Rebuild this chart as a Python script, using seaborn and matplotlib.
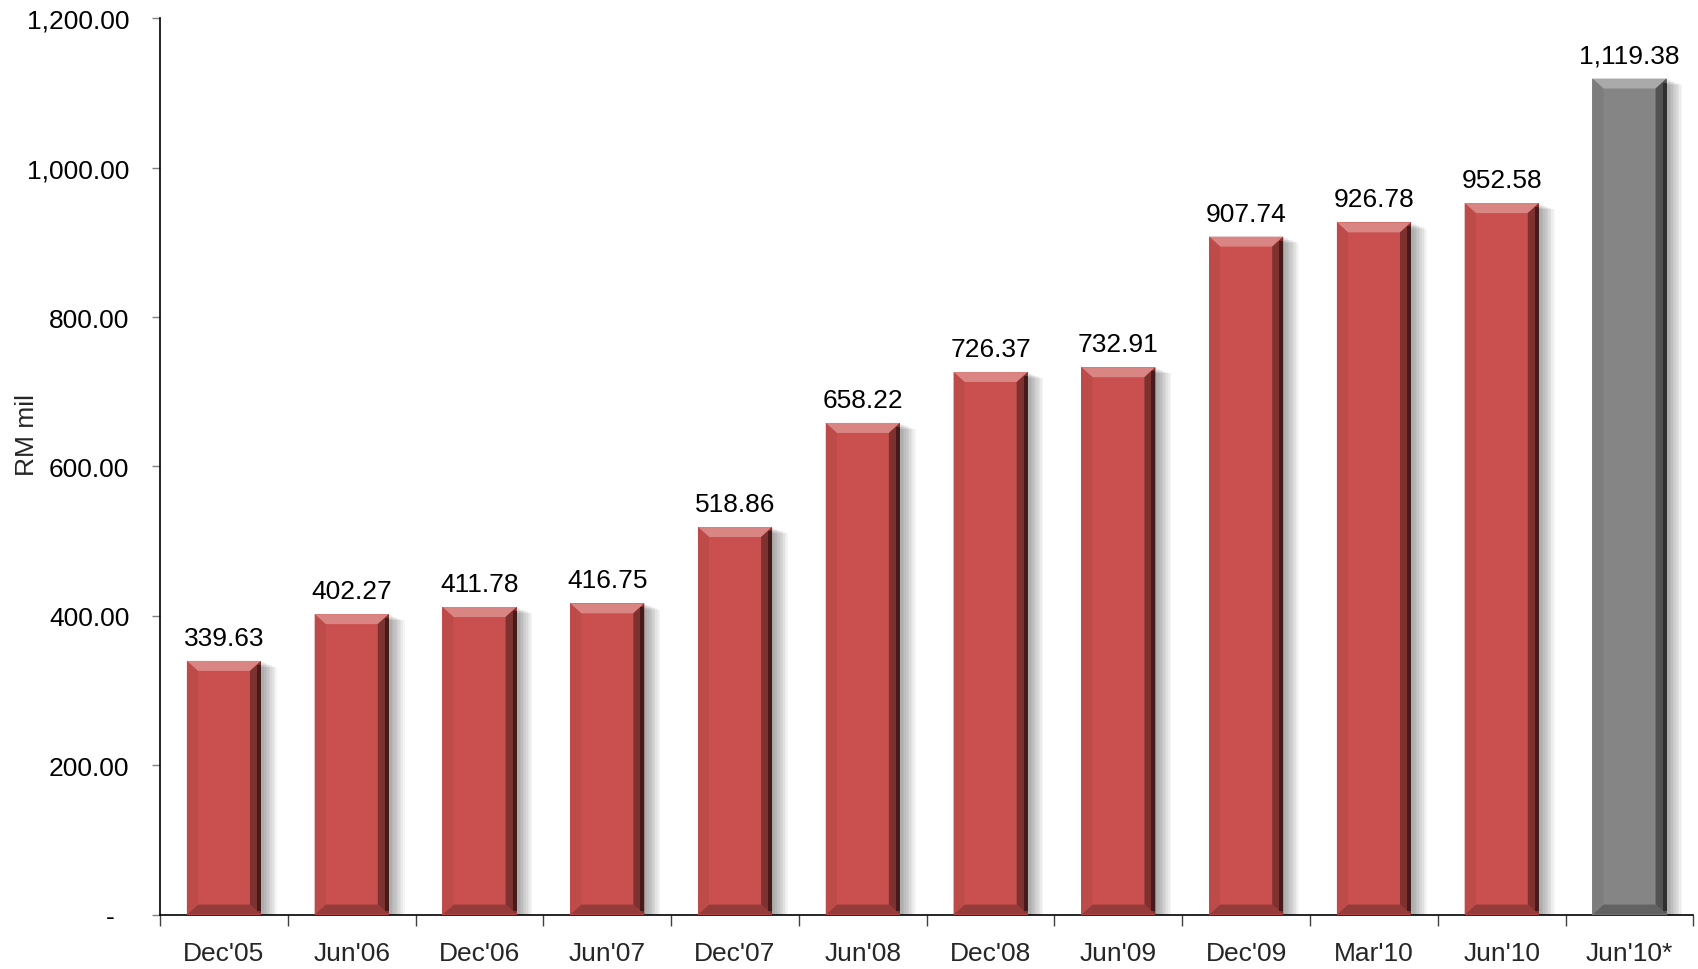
import matplotlib
matplotlib.use("Agg")
import matplotlib.pyplot as plt
import seaborn as sns
import pandas as pd
import numpy as np
from matplotlib.patches import Polygon, Rectangle
from matplotlib.ticker import FixedLocator
import matplotlib.colors as mcolors

periods = ["Dec'05", "Jun'06", "Dec'06", "Jun'07", "Dec'07", "Jun'08",
           "Dec'08", "Jun'09", "Dec'09", "Mar'10", "Jun'10", "Jun'10*"]
values = [339.63, 402.27, 411.78, 416.75, 518.86, 658.22,
          726.37, 732.91, 907.74, 926.78, 952.58, 1119.38]
bar_colors = ["#C9504E"] * 11 + ["#858585"]

sns.set_theme(style="white")
plt.rcParams["font.family"] = ["Liberation Sans", "DejaVu Sans"]

df = pd.DataFrame({"period": periods, "value": values})

fig = plt.figure(figsize=(16.99, 9.70), dpi=100)
ax = fig.add_axes([0.0942, 0.0561, 0.9025, 0.924])

sns.barplot(data=df, x="period", y="value", hue="period", palette=bar_colors,
            legend=False, width=0.58, ax=ax, saturation=1)

ax.set_ylim(0, 1200)
ax.set_xlim(-0.5, len(periods) - 0.5)
fig.canvas.draw()

# pixel -> data conversion for bevel sizes
inv = ax.transData.inverted()
p0 = inv.transform((0, 0))
p1 = inv.transform((1, 1))
dx_px = p1[0] - p0[0]
dy_px = p1[1] - p0[1]

def shade(c, f):
    r, g, b = mcolors.to_rgb(c)
    if f >= 1:
        return (r + (1 - r) * (f - 1), g + (1 - g) * (f - 1), b + (1 - b) * (f - 1))
    return (r * f, g * f, b * f)

for patch, col in zip(ax.patches, bar_colors):
    x0 = patch.get_x()
    w = patch.get_width()
    h = patch.get_height()
    x1 = x0 + w
    patch.set_zorder(3)
    patch.set_edgecolor("none")
    # soft drop shadow to the right and below
    for k in range(9):
        off = (3 + k * 1.6)
        ax.add_patch(Rectangle((x0 + off * dx_px, 0.0), w, h - off * dy_px * 0.4,
                               facecolor="black", alpha=0.04, edgecolor="none",
                               zorder=2, clip_on=False))
    bx = 11 * dx_px
    by = 10 * dy_px
    # top bevel (light)
    ax.add_patch(Polygon([(x0, h), (x1, h), (x1 - bx, h - by), (x0 + bx, h - by)],
                         closed=True, facecolor=shade(col, 1.3), edgecolor="none", zorder=4))
    # bottom bevel (dark)
    ax.add_patch(Polygon([(x0, 0), (x1, 0), (x1 - bx, by), (x0 + bx, by)],
                         closed=True, facecolor=shade(col, 0.74), edgecolor="none", zorder=4))
    # left bevel
    ax.add_patch(Polygon([(x0, 0), (x0 + bx, by), (x0 + bx, h - by), (x0, h)],
                         closed=True, facecolor=shade(col, 0.94), edgecolor="none", zorder=4))
    # right bevel (dark gradient)
    ax.add_patch(Polygon([(x1, 0), (x1 - bx, by), (x1 - bx, h - by), (x1, h)],
                         closed=True, facecolor=shade(col, 0.62), edgecolor="none", zorder=4))
    ax.add_patch(Rectangle((x1 - 4 * dx_px, by * 0.4), 4 * dx_px, h - by * 0.8,
                           facecolor=shade(col, 0.35), edgecolor="none", zorder=4))
    # value label
    ax.text(x0 + w / 2, h + 11 * dy_px, f"{h:,.2f}", ha="center", va="bottom",
            fontsize=19, color="black", zorder=5)

# axes styling
for side in ["top", "right"]:
    ax.spines[side].set_visible(False)
for side in ["left", "bottom"]:
    ax.spines[side].set_color("black")
    ax.spines[side].set_linewidth(1.2)

yt = np.arange(0, 1201, 200)
ax.set_yticks(yt)
ax.set_yticklabels(["-  "] + [f"{v:,.2f}" for v in yt[1:]], fontsize=19)
ax.tick_params(axis="y", which="major", left=True, length=6, width=1.0,
               color="#808080", pad=16, labelcolor="black")

ax.set_xticks(range(len(periods)))
ax.set_xticklabels(periods, fontsize=19)
ax.xaxis.set_minor_locator(FixedLocator(np.arange(-0.5, len(periods), 1.0)))
ax.tick_params(axis="x", which="major", bottom=False, length=0, pad=19)
ax.tick_params(axis="x", which="minor", bottom=True, length=8, width=1.0, color="#404040")

ax.set_xlabel("")
ax.set_ylabel("RM mil", fontsize=19, labelpad=14)
ax.yaxis.set_label_coords(-0.079, 0.536)
ax.grid(False)

fig.savefig("out.png", dpi=100)
